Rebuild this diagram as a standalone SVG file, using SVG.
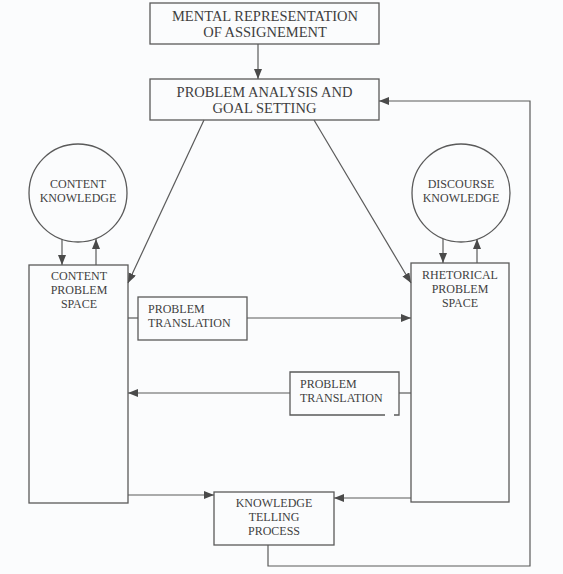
<svg xmlns="http://www.w3.org/2000/svg" width="563" height="574" viewBox="0 0 563 574">
<defs>
<marker id="ah" markerUnits="userSpaceOnUse" markerWidth="10" markerHeight="8" refX="10" refY="4" orient="auto">
<path d="M0,0 L10,4 L0,8 z" fill="#4a4a4a"/>
</marker>
<style>
.box{fill:none;stroke:#5a5a5a;stroke-width:1.3}
.ln{fill:none;stroke:#5a5a5a;stroke-width:1.2}
.arr{fill:none;stroke:#5a5a5a;stroke-width:1.2;marker-end:url(#ah)}
.t{font-family:"Liberation Serif","Times New Roman",serif;fill:#3f3f3f;font-size:12px}
.big{font-size:14.5px}
.c{text-anchor:middle}
</style>
</defs>
<rect width="563" height="574" fill="#fbfcfd"/>

<g id="mental">
<rect class="box" x="150" y="3" width="229" height="41"/>
<text class="t big c" x="265" y="21">MENTAL REPRESENTATION</text>
<text class="t big c" x="265" y="37">OF ASSIGNEMENT</text>
</g>

<g id="analysis">
<rect class="box" x="150" y="79" width="229" height="41"/>
<text class="t big c" x="264.5" y="97">PROBLEM ANALYSIS AND</text>
<text class="t big c" x="264.5" y="113">GOAL SETTING</text>
</g>

<g id="content-knowledge">
<circle class="box" cx="78" cy="193" r="49"/>
<text class="t c" x="78" y="188">CONTENT</text>
<text class="t c" x="78" y="202">KNOWLEDGE</text>
</g>

<g id="discourse-knowledge">
<circle class="box" cx="461" cy="193" r="49"/>
<text class="t c" x="461" y="188">DISCOURSE</text>
<text class="t c" x="461" y="202">KNOWLEDGE</text>
</g>

<g id="content-space">
<rect class="box" x="29" y="265" width="99" height="238"/>
<text class="t c" x="79" y="280">CONTENT</text>
<text class="t c" x="79" y="294">PROBLEM</text>
<text class="t c" x="79" y="308">SPACE</text>
</g>

<g id="rhetorical-space">
<rect class="box" x="411" y="263" width="98" height="239"/>
<text class="t c" x="460" y="279">RHETORICAL</text>
<text class="t c" x="460" y="293">PROBLEM</text>
<text class="t c" x="460" y="307">SPACE</text>
</g>

<g id="translation1">
<rect class="box" x="138" y="297" width="109" height="43"/>
<text class="t" x="148" y="313">PROBLEM</text>
<text class="t" x="148" y="327">TRANSLATION</text>
</g>

<g id="translation2">
<path class="box" d="M385,415 L290,415 L290,372 L399,372 L399,415 L394,415"/>
<text class="t" x="300" y="388">PROBLEM</text>
<text class="t" x="300" y="402">TRANSLATION</text>
</g>

<g id="telling">
<rect class="box" x="214" y="492" width="120" height="53"/>
<text class="t c" x="274" y="507">KNOWLEDGE</text>
<text class="t c" x="274" y="521">TELLING</text>
<text class="t c" x="274" y="535">PROCESS</text>
</g>

<g id="connectors">
<line class="arr" x1="258" y1="44" x2="258" y2="79"/>
<polyline class="arr" points="268,545 268,566 530,566 530,101 379,101"/>
<line class="arr" x1="204" y1="120" x2="128" y2="283"/>
<line class="arr" x1="314" y1="120" x2="411" y2="283"/>
<line class="arr" x1="62" y1="239" x2="62" y2="265"/>
<line class="arr" x1="96" y1="265" x2="96" y2="239"/>
<line class="arr" x1="443" y1="239" x2="443" y2="263"/>
<line class="arr" x1="477" y1="263" x2="477" y2="239"/>
<line class="ln" x1="128" y1="318" x2="138" y2="318"/>
<line class="arr" x1="247" y1="318" x2="411" y2="318"/>
<line class="arr" x1="290" y1="393" x2="128" y2="393"/>
<line class="ln" x1="399" y1="393" x2="411" y2="393"/>
<line class="arr" x1="128" y1="495" x2="214" y2="495"/>
<line class="arr" x1="411" y1="498" x2="334" y2="498"/>
</g>
</svg>
